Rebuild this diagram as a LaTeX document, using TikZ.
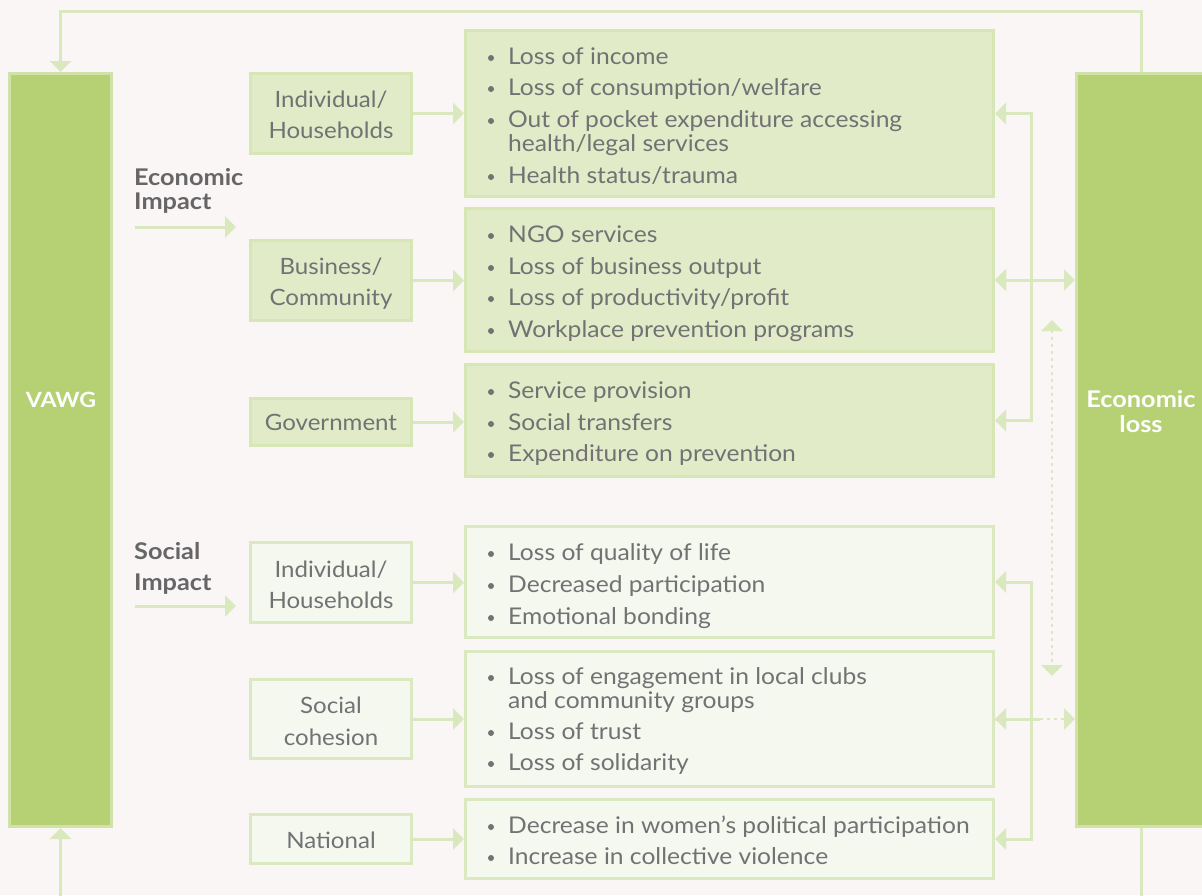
\documentclass[tikz,border=0pt]{standalone}
\usepackage{fontspec}
\setmainfont{Lato}
\newfontfamily\bodyfont{Lato}[FakeStretch=1.07]
\newfontfamily\boldfont{Lato}[FakeStretch=1.1]
\usetikzlibrary{arrows.meta}
\definecolor{bgc}{HTML}{F9F6F5}
\definecolor{darkg}{HTML}{B5D174}
\definecolor{darkgb}{HTML}{D0E2A7}
\definecolor{efill}{HTML}{E2EBC8}
\definecolor{eborder}{HTML}{D6E6B4}
\definecolor{sfill}{HTML}{F5F8EE}
\definecolor{sborder}{HTML}{DBE9C0}
\definecolor{connc}{HTML}{D9E8BD}
\definecolor{txtc}{HTML}{727274}
\definecolor{labc}{HTML}{666668}
\tikzset{
  bigbox/.style={draw=darkgb,fill=darkg,line width=3pt,inner sep=0pt},
  ebox/.style={draw=eborder,fill=efill,line width=3pt,inner sep=0pt},
  sbox/.style={draw=sborder,fill=sfill,line width=3pt,inner sep=0pt},
  conn/.style={draw=connc,line width=3pt,arrows={-Triangle[length=11pt,width=21pt]}},
  conn2/.style={draw=connc,line width=3pt,arrows={Triangle[length=11pt,width=21pt]-Triangle[length=11pt,width=21pt]}},
  connp/.style={draw=connc,line width=3pt},
  dotc/.style={draw=connc,line width=2.5pt,dash pattern=on 2.5pt off 4.5pt},
  btxt/.style={anchor=base west,inner sep=0pt,text=txtc,font=\bodyfont\fontsize{23}{27}\selectfont},
  ltxt/.style={anchor=base,inner sep=0pt,text=txtc,font=\bodyfont\fontsize{22.5}{26}\selectfont},
  hlab/.style={anchor=base west,inner sep=0pt,text=labc,font=\boldfont\fontsize{23}{26}\selectfont\bfseries},
  wlab/.style={anchor=base,inner sep=0pt,text=white,font=\boldfont\fontsize{23}{26}\selectfont\bfseries},
}
\newcommand\bdot[1]{\fill[txtc] (491,#1-6) circle (3);}
\begin{document}
\begin{tikzpicture}[x=1pt,y=-1pt]
\useasboundingbox (0,0) rectangle (1202,895);
\fill[bgc] (0,0) rectangle (1202,895);
\clip (0,0) rectangle (1202,895);
% big boxes
\node[bigbox,minimum width=101.7,minimum height=753] (vawg) at (60.5,450) {};
\node[bigbox,minimum width=129,minimum height=753] (eloss) at (1141,450) {};
\node[wlab,font=\boldfont\fontsize{21}{26}\selectfont\bfseries] (vawgt) at (61,407) {VAWG};
\node[wlab] (elt1) at (1141,407) {Economic};
\node[wlab] (elt2) at (1141,432) {loss};
% left boxes
\node[ebox,minimum width=161,minimum height=80] (l1) at (331,113.5) {};
\node[ebox,minimum width=161,minimum height=80] (l2) at (331,280.5) {};
\node[ebox,minimum width=161,minimum height=47] (l3) at (331,422) {};
\node[sbox,minimum width=161,minimum height=80] (l4) at (331,582.5) {};
\node[sbox,minimum width=161,minimum height=79] (l5) at (331,719) {};
\node[sbox,minimum width=161,minimum height=49] (l6) at (331,839) {};
\node[ltxt] (l1a) at (331,107) {Individual/};
\node[ltxt] (l1b) at (331,138) {Households};
\node[ltxt] (l2a) at (331,274) {Business/};
\node[ltxt] (l2b) at (331,305) {Community};
\node[ltxt] (l3a) at (331,430) {Government};
\node[ltxt] (l4a) at (331,577) {Individual/};
\node[ltxt] (l4b) at (331,608) {Households};
\node[ltxt] (l5a) at (331,713) {Social};
\node[ltxt] (l5b) at (331,745) {cohesion};
\node[ltxt] (l6a) at (331,848) {National};
% right boxes
\node[ebox,minimum width=528,minimum height=166] (r1) at (729.5,113.5) {};
\node[ebox,minimum width=528,minimum height=143] (r2) at (729.5,280) {};
\node[ebox,minimum width=528,minimum height=112] (r3) at (729.5,420.5) {};
\node[sbox,minimum width=528,minimum height=111] (r4) at (729.5,582) {};
\node[sbox,minimum width=528,minimum height=135] (r5) at (729.5,719) {};
\node[sbox,minimum width=528,minimum height=79] (r6) at (729.5,839) {};
% texts box 1
\bdot{64}\node[btxt] (r1a) at (508,64) {Loss of income};
\bdot{95}\node[btxt] (r1b) at (508,95) {Loss of consumption/welfare};
\bdot{127}\node[btxt] (r1c) at (508,127) {Out of pocket expenditure accessing};
\node[btxt] (r1d) at (508,151) {health/legal services};
\bdot{183}\node[btxt] (r1e) at (508,183) {Health status/trauma};
% box 2
\bdot{242}\node[btxt] (r2a) at (508,242) {NGO services};
\bdot{274}\node[btxt] (r2b) at (508,274) {Loss of business output};
\bdot{305}\node[btxt] (r2c) at (508,305) {Loss of productivity/profit};
\bdot{337}\node[btxt] (r2d) at (508,337) {Workplace prevention programs};
% box 3
\bdot{398}\node[btxt] (r3a) at (508,398) {Service provision};
\bdot{430}\node[btxt] (r3b) at (508,430) {Social transfers};
\bdot{461}\node[btxt] (r3c) at (508,461) {Expenditure on prevention};
% box 4
\bdot{560}\node[btxt] (r4a) at (508,560) {Loss of quality of life};
\bdot{592}\node[btxt] (r4b) at (508,592) {Decreased participation};
\bdot{624}\node[btxt] (r4c) at (508,624) {Emotional bonding};
% box 5
\bdot{684}\node[btxt] (r5a) at (508,684) {Loss of engagement in local clubs};
\node[btxt] (r5b) at (508,708) {and community groups};
\bdot{739}\node[btxt] (r5c) at (508,739) {Loss of trust};
\bdot{770}\node[btxt] (r5d) at (508,770) {Loss of solidarity};
% box 6
\bdot{833}\node[btxt] (r6a) at (508,833) {Decrease in women’s political participation};
\bdot{864}\node[btxt] (r6b) at (508,864) {Increase in collective violence};
% impact labels
\node[hlab] (ei1) at (134,185) {Economic};
\node[hlab] (ei2) at (134,209) {Impact};
\node[hlab] (si1) at (134,559) {Social};
\node[hlab] (si2) at (134,590) {Impact};
\coordinate (eia) at (135,227);
\coordinate (eib) at (236,227);
\coordinate (sia) at (135,606);
\coordinate (sib) at (236,606);
\draw[conn] (eia) -- (eib);
\draw[conn] (sia) -- (sib);
% left to right arrows
\foreach \i in {1,...,6}{
  \draw[conn] (l\i.east) -- (l\i.east -| r\i.west);
}
% right connectors
\coordinate (v) at (1031,0);
\draw[conn2] (r1.east) -| (v |- r3.east) -- (r3.east);
\draw[conn] (v |- r2.east) -- (r2.east);
\draw[conn2] (r2.east) -- (r2.east -| eloss.west);
\draw[conn2] (r4.east) -| (v |- r6.east) -- (r6.east);
\draw[conn] (v |- r5.east) -- (r5.east);
\coordinate (sd) at (1040,719);
\draw[connp] (r5.east) -- (sd);
\draw[dotc,arrows={-Triangle[length=11pt,width=21pt]}] (sd) -- (sd -| eloss.west);
\coordinate (dt) at (1052,320);
\coordinate (db) at (1052,676);
\draw[dotc,arrows={Triangle[length=11pt,width=21pt]-Triangle[length=11pt,width=21pt]}] (dt) -- (db);
% loop
\draw[conn,line join=miter] (eloss.north) -- ++(0,-61) -| (vawg.north);
\coordinate (vb) at (60.5,900);
\coordinate (eb) at (1141,900);
\draw[conn] (vb) -- (vawg.south);
\draw[connp] (eloss.south) -- (eb);
\end{tikzpicture}
\end{document}
